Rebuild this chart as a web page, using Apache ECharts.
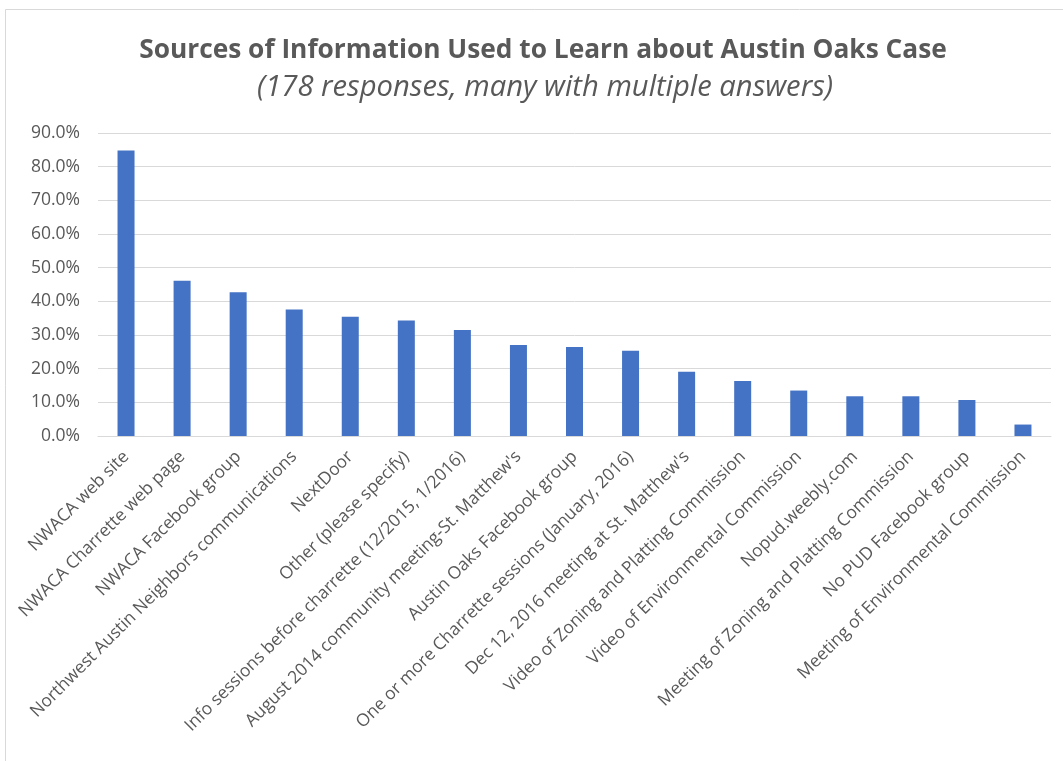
<!DOCTYPE html>
<html><head><meta charset="utf-8">
<script src="https://cdn.jsdelivr.net/npm/echarts@6/dist/echarts.min.js"></script>
<style>html,body{margin:0;padding:0;background:#fff}#c{width:1063px;height:761px}</style>
</head><body><div id="c"></div>
<script>
const categories = ["NWACA web site","NWACA Charrette web page","NWACA Facebook group","Northwest Austin Neighbors communications","NextDoor","Other (please specify)","Info sessions before charrette (12/2015, 1/2016)","August 2014 community meeting-St. Matthew's","Austin Oaks Facebook group","One or more Charrette sessions (January, 2016)","Dec 12, 2016 meeting at St. Matthew's","Video of Zoning and Platting Commission","Video of Environmental Commission","Nopud.weebly.com","Meeting of Zoning and Platting Commission","No PUD Facebook group","Meeting of Environmental Commission"];
const values = [84.8,46.1,42.7,37.6,35.4,34.3,31.5,27.0,26.4,25.3,19.1,16.3,13.5,11.8,11.8,10.7,3.4];
const titleText = "Sources of Information Used to Learn about Austin Oaks Case";
const subtitleText = "(178 responses, many with multiple answers)";

const chart = echarts.init(document.getElementById('c'), null, {renderer:'canvas'});
chart.setOption({
  animation:false,
  backgroundColor:'#fff',
  graphic:[{type:'rect',shape:{x:5.5,y:9.5,width:1070,height:800},style:{fill:'none',stroke:'#d9d9d9',lineWidth:1},silent:true}],
  title:[
    {text:titleText,left:538,top:33,textAlign:'center',textStyle:{fontFamily:'Open Sans, sans-serif',fontWeight:'bold',fontSize:26.3,color:'#595959'}},
    {text:subtitleText,left:540,top:68,textAlign:'center',textStyle:{fontFamily:'Open Sans, sans-serif',fontStyle:'italic',fontWeight:'normal',fontSize:29.2,color:'#595959'}}
  ],
  grid:{left:98,right:12,top:133,bottom:325,containLabel:false},
  xAxis:{type:'category',data:categories,
    axisLine:{lineStyle:{color:'#d9d9d9',width:1}},axisTick:{show:false},
    axisLabel:{interval:0,rotate:45,color:'#595959',fontSize:17.4,fontFamily:'Open Sans, sans-serif',margin:18}},
  yAxis:{type:'value',min:0,max:90,interval:10,
    axisLine:{show:false},axisTick:{show:false},
    splitLine:{lineStyle:{color:'#d9d9d9',width:1}},
    axisLabel:{formatter:v=>v.toFixed(1)+'%',color:'#595959',fontSize:17.5,fontFamily:'Open Sans, sans-serif',margin:18}},
  series:[{type:'bar',data:values,barWidth:17,itemStyle:{color:'#4472C4'}}]
});
</script></body></html>
